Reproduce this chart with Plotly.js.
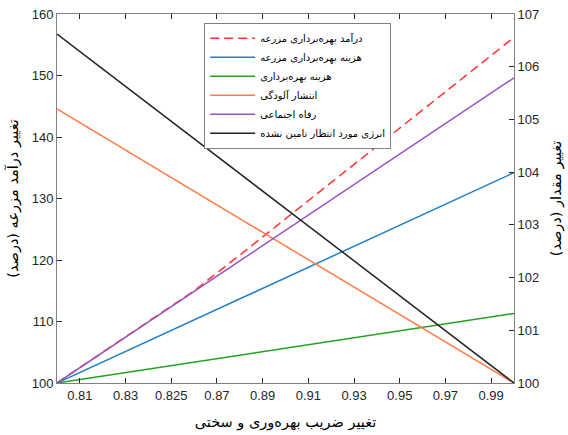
<!DOCTYPE html>
<html><head><meta charset="utf-8">
<script src="https://cdn.plot.ly/plotly-3.0.1.min.js"></script>
<style>body{margin:0;background:#fff}#c{width:568px;height:435px}</style>
</head><body><div id="c"></div>
<script>
// x tick positions and labels (as printed in the original)
const xTickVals = [0.81,0.83,0.85,0.87,0.89,0.91,0.93,0.95,0.97,0.99];
const xTickText = ['0.81','0.83','0.825','0.87','0.89','0.91','0.93','0.95','0.97','0.99'];

// farm income (left axis, %)
const incomeX = [0.80,0.82,0.84,0.86,0.88,0.90,0.92,0.94,0.96,0.98,1.00];
const incomeY = [100,105.0,110.0,115.0,120.8,126.7,132.6,138.5,144.4,150.3,156.2];

// other series (right axis, %)
const lineX = [0.80,1.00];
const farmCost = [100,103.99];
const operCost = [100,101.32];
const pollution = [105.20,100];
const welfare = [100,105.79];
const unmetEnergy = [106.62,100];

const names = ['درآمد بهره‌برداری مزرعه','هزینه بهره‌برداری مزرعه','هزینه بهره‌برداری','انتشار آلودگی','رفاه اجتماعی','انرژی مورد انتظار تامین نشده'];

const traces = [
 {x:incomeX,y:incomeY,name:names[0],mode:'lines',line:{color:'#FF3333',width:1.5,dash:'9px,5px'},yaxis:'y'},
 {x:lineX,y:farmCost,name:names[1],mode:'lines',line:{color:'#1F7FCB',width:1.5},yaxis:'y2'},
 {x:lineX,y:operCost,name:names[2],mode:'lines',line:{color:'#22A022',width:1.5},yaxis:'y2'},
 {x:lineX,y:pollution,name:names[3],mode:'lines',line:{color:'#FF7A45',width:1.5},yaxis:'y2'},
 {x:lineX,y:welfare,name:names[4],mode:'lines',line:{color:'#9B50C0',width:1.5},yaxis:'y2'},
 {x:lineX,y:unmetEnergy,name:names[5],mode:'lines',line:{color:'#222222',width:1.5},yaxis:'y2'}
];

const axFont = {family:'Liberation Sans, Arial, sans-serif',size:13,color:'#262626'};
const titleFont = {family:'DejaVu Sans, sans-serif',size:14.5,color:'#000'};

const layout = {
 width:568,height:435,
 margin:{l:57,r:54,t:14,b:52},
 paper_bgcolor:'#fff',plot_bgcolor:'#fff',
 showlegend:true,
 legend:{x:0.322,y:0.976,xanchor:'left',yanchor:'top',bgcolor:'#fff',bordercolor:'#808080',borderwidth:1,
   font:{family:'DejaVu Sans, sans-serif',size:10,color:'#000'},tracegroupgap:0,itemwidth:45},
 xaxis:{range:[0.80,1.00],tickvals:xTickVals,ticktext:xTickText,ticks:'inside',ticklen:5,tickcolor:'#262626',
   showline:true,linecolor:'#808080',linewidth:1,mirror:'ticks',showgrid:false,zeroline:false,tickfont:axFont,
   title:{text:'تغییر ضریب بهره‌وری و سختی',font:titleFont,standoff:15}},
 yaxis:{range:[100,160],dtick:10,ticks:'inside',ticklen:5,tickcolor:'#262626',showline:true,linecolor:'#808080',
   linewidth:1,showgrid:false,zeroline:false,tickfont:axFont,
   title:{text:'تغییر درآمد مزرعه (درصد)',font:titleFont,standoff:9}},
 yaxis2:{range:[100,107],dtick:1,overlaying:'y',side:'right',ticks:'inside',ticklen:5,tickcolor:'#262626',
   showline:true,linecolor:'#808080',linewidth:1,showgrid:false,zeroline:false,tickfont:axFont,
   title:{text:'تغییر مقدار (درصد)',font:titleFont,standoff:12}}
};

Plotly.newPlot('c',traces,layout,{displayModeBar:false,staticPlot:true});
</script>
</body></html>
